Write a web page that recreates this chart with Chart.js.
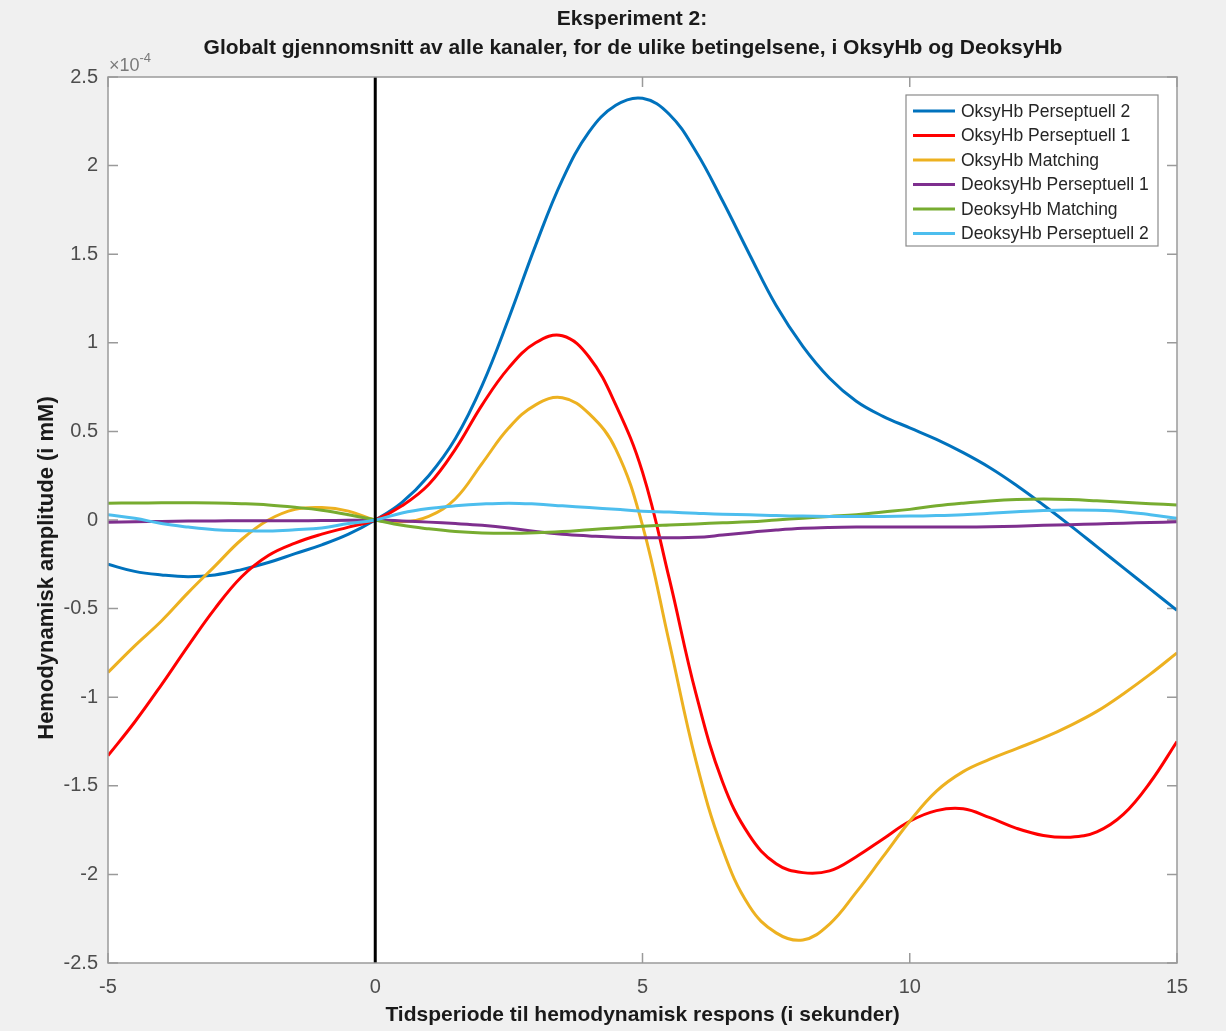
<!DOCTYPE html>
<html>
<head>
<meta charset="utf-8">
<script src="https://cdn.jsdelivr.net/npm/chart.js@4.4.0/dist/chart.umd.min.js"></script>
<style>
html,body{margin:0;padding:0;background:#f0f0f0;}
#wrap{width:1226px;height:1031px;}
</style>
</head>
<body>
<div id="wrap"><canvas id="c" width="1226" height="1031"></canvas></div>
<script>
// ---- Data (amplitudes in units of 1e-4 mM) ----
const timeSec = [-5,-4.5,-4,-3.5,-3,-2.5,-2,-1.5,-1,-0.5,0,
  0.5,1,1.5,2,2.5,3,3.5,4,4.5,5,
  5.5,6,6.5,7,7.5,8,8.5,9,9.5,10,
  10.5,11,11.5,12,12.5,13,13.5,14,14.5,15];

const oksyPersep2 = [-0.25,-0.29,-0.31,-0.32,-0.31,-0.28,-0.24,-0.19,-0.14,-0.08,0,
  0.10,0.25,0.46,0.76,1.14,1.55,1.92,2.19,2.34,2.38,
  2.29,2.08,1.80,1.50,1.21,0.98,0.80,0.67,0.585,0.52,
  0.455,0.38,0.295,0.195,0.085,-0.03,-0.15,-0.27,-0.39,-0.51];

const oksyPersep1 = [-1.33,-1.14,-0.93,-0.71,-0.50,-0.32,-0.20,-0.13,-0.08,-0.04,0,
  0.08,0.20,0.40,0.65,0.86,1.00,1.04,0.92,0.65,0.27,
  -0.33,-0.98,-1.48,-1.78,-1.94,-1.99,-1.98,-1.90,-1.80,-1.70,
  -1.64,-1.63,-1.68,-1.74,-1.78,-1.79,-1.76,-1.66,-1.48,-1.25];

const oksyMatching = [-0.86,-0.71,-0.57,-0.41,-0.26,-0.11,0.00,0.06,0.07,0.05,0,
  -0.01,0.02,0.12,0.32,0.52,0.65,0.69,0.60,0.40,-0.03,
  -0.69,-1.36,-1.86,-2.18,-2.33,-2.37,-2.28,-2.10,-1.90,-1.70,
  -1.53,-1.42,-1.35,-1.29,-1.23,-1.16,-1.08,-0.98,-0.87,-0.75];

const deoksyPersep1 = [-0.012,-0.010,-0.008,-0.006,-0.005,-0.004,-0.004,-0.004,-0.003,-0.002,0,
  -0.005,-0.012,-0.020,-0.030,-0.045,-0.065,-0.080,-0.090,-0.098,-0.100,
  -0.100,-0.098,-0.085,-0.070,-0.057,-0.047,-0.042,-0.040,-0.040,-0.040,
  -0.040,-0.040,-0.038,-0.035,-0.030,-0.027,-0.022,-0.018,-0.014,-0.010];

const deoksyMatching = [0.095,0.096,0.097,0.097,0.096,0.092,0.085,0.072,0.055,0.030,0,
  -0.030,-0.050,-0.065,-0.073,-0.075,-0.072,-0.065,-0.055,-0.045,-0.035,
  -0.028,-0.022,-0.016,-0.010,0.000,0.010,0.020,0.030,0.045,0.060,
  0.080,0.095,0.107,0.115,0.118,0.115,0.108,0.100,0.092,0.085];

const deoksyPersep2 = [0.030,0.010,-0.020,-0.040,-0.055,-0.060,-0.062,-0.055,-0.045,-0.020,0,
  0.040,0.065,0.080,0.090,0.095,0.090,0.080,0.070,0.060,0.050,
  0.045,0.038,0.032,0.030,0.025,0.022,0.020,0.020,0.020,0.022,
  0.025,0.030,0.038,0.047,0.054,0.057,0.055,0.047,0.030,0.010];

const seriesLabels = ['OksyHb Perseptuell 2','OksyHb Perseptuell 1','OksyHb Matching',
  'DeoksyHb Perseptuell 1','DeoksyHb Matching','DeoksyHb Perseptuell 2'];
const seriesValues = [oksyPersep2, oksyPersep1, oksyMatching, deoksyPersep1, deoksyMatching, deoksyPersep2];
const seriesColors = ['#0072BD','#FF0000','#EDB120','#7E2F8E','#77AC30','#4DBEEE'];

const onsetLineX = [0, 0];
const onsetLineY = [-2.5, 2.5];

const xTicks = [-5, 0, 5, 10, 15];
const yTicks = [-2.5,-2,-1.5,-1,-0.5,0,0.5,1,1.5,2,2.5];

const FONT = '"Liberation Sans", Arial, Helvetica, sans-serif';

const datasets = seriesValues.map((vals, i) => ({
  label: seriesLabels[i],
  data: timeSec.map((t, j) => ({x: t, y: vals[j]})),
  borderColor: seriesColors[i],
  backgroundColor: seriesColors[i],
  borderWidth: 3,
  pointRadius: 0,
  tension: 0.4,
  fill: false,
  order: seriesValues.length - i
}));
datasets.push({
  label: 'onset',
  data: onsetLineX.map((t, j) => ({x: t, y: onsetLineY[j]})),
  borderColor: '#000000',
  borderWidth: 3,
  pointRadius: 0,
  tension: 0,
  fill: false,
  order: 0
});

const matlabFrame = {
  id: 'matlabFrame',
  beforeDraw(chart) {
    const {ctx, chartArea: a} = chart;
    ctx.save();
    ctx.fillStyle = '#f0f0f0';
    ctx.fillRect(0, 0, chart.width, chart.height);
    ctx.fillStyle = '#ffffff';
    ctx.fillRect(a.left, a.top, a.right - a.left, a.bottom - a.top);
    ctx.restore();
  },
  beforeDatasetsDraw(chart) {
    const {ctx, chartArea: a, scales: {x, y}} = chart;
    ctx.save();
    ctx.strokeStyle = '#9a9a9a';
    ctx.lineWidth = 1.5;
    ctx.beginPath();
    y.ticks.forEach(t => {
      const p = y.getPixelForValue(t.value);
      ctx.moveTo(a.left, p); ctx.lineTo(a.left + 10, p);
      ctx.moveTo(a.right, p); ctx.lineTo(a.right - 10, p);
    });
    x.ticks.forEach(t => {
      const p = x.getPixelForValue(t.value);
      ctx.moveTo(p, a.bottom); ctx.lineTo(p, a.bottom - 10);
      ctx.moveTo(p, a.top); ctx.lineTo(p, a.top + 10);
    });
    ctx.stroke();
    ctx.restore();
  },
  afterDraw(chart) {
    const {ctx, chartArea: a} = chart;
    ctx.save();
    // box
    ctx.strokeStyle = '#9a9a9a';
    ctx.lineWidth = 1.5;
    ctx.strokeRect(a.left, a.top, a.right - a.left, a.bottom - a.top);

    // exponent
    ctx.fillStyle = '#7a7a7a';
    ctx.textAlign = 'left';
    ctx.textBaseline = 'alphabetic';
    ctx.font = '18px ' + FONT;
    ctx.fillText('\u00d710', a.left + 1, a.top - 6);
    const w = ctx.measureText('\u00d710').width;
    ctx.font = '13px ' + FONT;
    ctx.fillText('-4', a.left + 1 + w, a.top - 15);

    // title
    ctx.fillStyle = '#1a1a1a';
    ctx.textAlign = 'center';
    ctx.textBaseline = 'middle';
    ctx.font = 'bold 21px ' + FONT;
    ctx.fillText('Eksperiment 2:', 632, 19);
    ctx.fillText('Globalt gjennomsnitt av alle kanaler, for de ulike betingelsene, i OksyHb og DeoksyHb', 633, 48);

    // axis labels
    ctx.fillText('Tidsperiode til hemodynamisk respons (i sekunder)', (a.left + a.right) / 2, 1015);
    ctx.save();
    ctx.translate(47, 568);
    ctx.rotate(-Math.PI / 2);
    ctx.font = 'bold 22px ' + FONT;
    ctx.fillText('Hemodynamisk amplitude (i mM)', 0, 0);
    ctx.restore();

    // legend
    const lx = a.right - 271, ly = a.top + 18, lw = 252, lh = 151;
    ctx.fillStyle = '#ffffff';
    ctx.fillRect(lx, ly, lw, lh);
    ctx.strokeStyle = '#8a8a8a';
    ctx.lineWidth = 1.2;
    ctx.strokeRect(lx, ly, lw, lh);
    ctx.font = '17.5px ' + FONT;
    ctx.textAlign = 'left';
    ctx.textBaseline = 'middle';
    chart.data.datasets.slice(0, seriesLabels.length).forEach((ds, i) => {
      const yy = ly + 16 + i * 24.5;
      ctx.strokeStyle = ds.borderColor;
      ctx.lineWidth = 3;
      ctx.beginPath();
      ctx.moveTo(lx + 7, yy); ctx.lineTo(lx + 49, yy);
      ctx.stroke();
      ctx.fillStyle = '#262626';
      ctx.fillText(ds.label, lx + 55, yy + 1);
    });
    ctx.restore();
  }
};

new Chart(document.getElementById('c'), {
  type: 'line',
  data: { datasets },
  options: {
    responsive: false,
    animation: false,
    devicePixelRatio: 1,
    layout: { padding: { left: 0, top: 77, right: 49, bottom: 0 } },
    plugins: { legend: { display: false }, title: { display: false }, tooltip: { enabled: false } },
    scales: {
      x: {
        type: 'linear',
        min: -5, max: 15,
        afterBuildTicks: s => { s.ticks = xTicks.map(v => ({value: v})); },
        afterFit: s => { s.height = 68; },
        grid: { display: false, drawTicks: false },
        border: { display: false },
        ticks: { color: '#4d4d4d', font: { family: FONT, size: 20 }, padding: 12, maxRotation: 0,
                 callback: v => String(v) }
      },
      y: {
        type: 'linear',
        min: -2.5, max: 2.5,
        afterBuildTicks: s => { s.ticks = yTicks.map(v => ({value: v})); },
        afterFit: s => { s.width = 108; },
        grid: { display: false, drawTicks: false },
        border: { display: false },
        ticks: { color: '#4d4d4d', font: { family: FONT, size: 20 }, padding: 10,
                 callback: v => String(v) }
      }
    }
  },
  plugins: [matlabFrame]
});
</script>
</body>
</html>
